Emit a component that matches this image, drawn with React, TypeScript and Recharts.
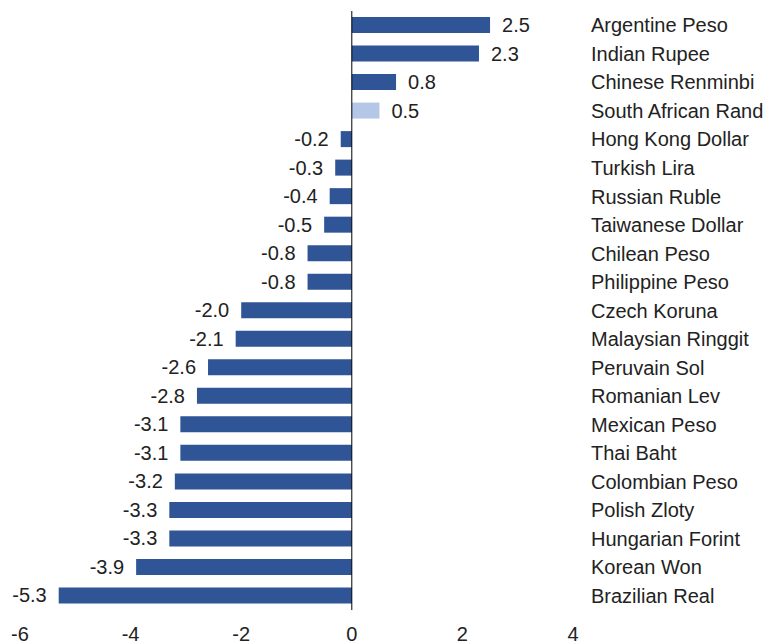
import { BarChart, Bar, XAxis, YAxis, Cell, LabelList, ReferenceLine } from 'recharts'

const currencies = [
  'Argentine Peso',
  'Indian Rupee',
  'Chinese Renminbi',
  'South African Rand',
  'Hong Kong Dollar',
  'Turkish Lira',
  'Russian Ruble',
  'Taiwanese Dollar',
  'Chilean Peso',
  'Philippine Peso',
  'Czech Koruna',
  'Malaysian Ringgit',
  'Peruvain Sol',
  'Romanian Lev',
  'Mexican Peso',
  'Thai Baht',
  'Colombian Peso',
  'Polish Zloty',
  'Hungarian Forint',
  'Korean Won',
  'Brazilian Real',
]

const changes = [2.5, 2.3, 0.8, 0.5, -0.2, -0.3, -0.4, -0.5, -0.8, -0.8, -2.0, -2.1, -2.6, -2.8, -3.1, -3.1, -3.2, -3.3, -3.3, -3.9, -5.3]

// highlighted row gets the light fill
const highlight = ['South African Rand']

const xTicks = [-6, -4, -2, 0, 2, 4]

const DARK = '#2f5597'
const LIGHT = '#b4c7e7'
const TEXT = '#222222'
const FONT = '"Liberation Sans", Arial, sans-serif'
const FONT_SIZE = 20

const data = currencies.map((name, i) => ({ name, value: changes[i] }))

function ValueLabel(props: any) {
  const { x, y, width, height, value } = props
  const v = Number(value)
  const end = x + width
  const positive = v >= 0
  const tx = positive ? Math.max(x, end) + 12 : Math.min(x, end) - 12
  return (
    <text
      x={tx}
      y={y + height / 2}
      dy="0.35em"
      textAnchor={positive ? 'start' : 'end'}
      fill={TEXT}
      fontSize={FONT_SIZE}
      fontFamily={FONT}
    >
      {v.toFixed(1)}
    </text>
  )
}

export default function App() {
  return (
    <div style={{ position: 'absolute', left: 0, top: 0, background: '#fff' }}>
      <BarChart
        width={767}
        height={644}
        data={data}
        layout="vertical"
        margin={{ top: 11, right: 0, bottom: 0, left: 20 }}
      >
        <XAxis
          type="number"
          domain={[-6, 4]}
          ticks={xTicks}
          axisLine={false}
          tickLine={false}
          tickSize={0}
          tickMargin={17}
          height={34}
          interval={0}
          tick={{ fill: TEXT, fontSize: FONT_SIZE, fontFamily: FONT }}
        />
        <YAxis
          type="category"
          dataKey="name"
          orientation="right"
          width={194}
          axisLine={false}
          tickLine={false}
          tickSize={0}
          tickMargin={18}
          interval={0}
          tick={{ fill: TEXT, fontSize: FONT_SIZE, fontFamily: FONT, textAnchor: 'start' }}
        />
        <Bar dataKey="value" barSize={16} isAnimationActive={false}>
          {data.map((d) => (
            <Cell key={d.name} fill={highlight.includes(d.name) ? LIGHT : DARK} />
          ))}
          <LabelList dataKey="value" content={ValueLabel} />
        </Bar>
        <ReferenceLine x={0} stroke="#000" strokeWidth={1} />
      </BarChart>
    </div>
  )
}
